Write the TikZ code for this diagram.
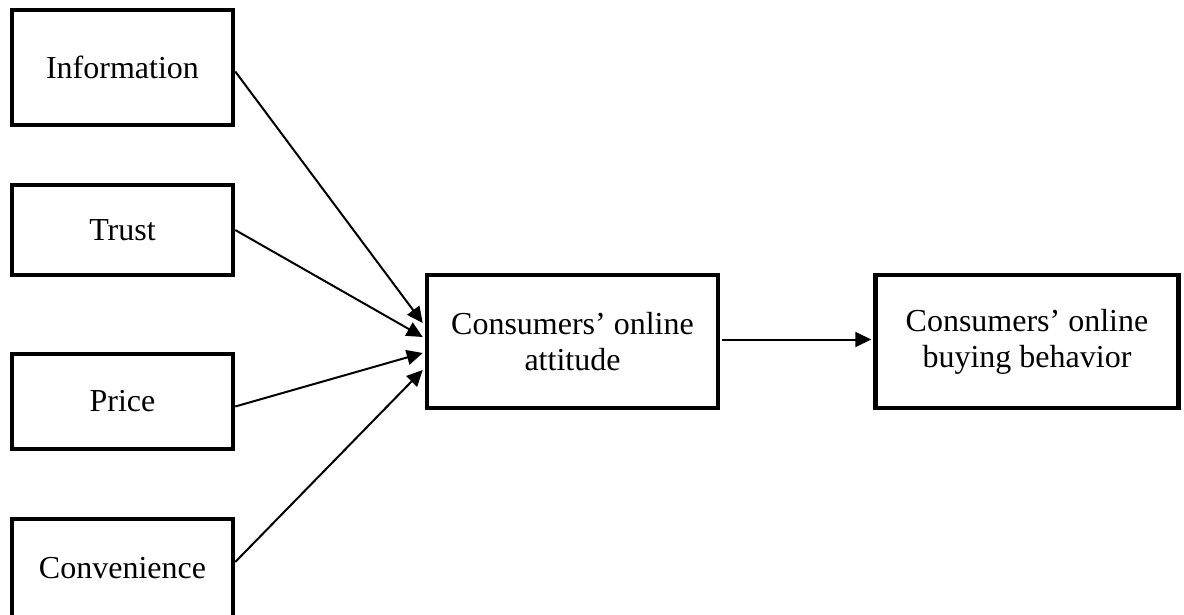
\documentclass[tikz,border=0pt]{standalone}
\usepackage{fontspec}
\setmainfont{Liberation Serif}
\usetikzlibrary{arrows.meta,calc}
\begin{document}
\begin{tikzpicture}[x=1pt,y=-1pt,
  box/.style={draw=black,line width=4.5pt,rectangle,inner sep=0pt,align=center,
    font=\fontsize{32}{36}\selectfont},
  link/.style={line width=2pt,-{Triangle[length=16pt,width=15pt]}}]
\useasboundingbox (0,0) rectangle (1184,615);
\begin{scope}
\clip (0,0) rectangle (1184,615);
\node[box,minimum width=221pt,minimum height=115pt] (info) at (122.5,67.5) {Information};
\node[box,minimum width=221pt,minimum height=90pt] (trust) at (122.5,230) {Trust};
\node[box,minimum width=221pt,minimum height=95pt] (price) at (122.5,401.5) {Price};
\node[box,minimum width=221pt,minimum height=98pt] (conv) at (122.5,568) {Convenience};
\node[box,minimum width=291pt,minimum height=133pt] (att) at (572.5,341.5) {Consumers’ online\\attitude};
\node[box,minimum width=303pt,minimum height=133pt] (beh) at (1027,341.5) {Consumers’ online\\buying behavior};
\end{scope}
\draw[link] ($(info.east)+(0,4)$) -- ($(att.west)+(-2,-18.5)$);
\draw[link] (trust.east) -- ($(att.west)+(-2,-4.5)$);
\draw[link] ($(price.east)+(0,5)$) -- ($(att.west)+(-2,11.5)$);
\draw[link] ($(conv.east)+(0,-6)$) -- ($(att.west)+(-2,28.5)$);
\draw[link] ($(att.east)+(2,-2)$) -- ($(beh.west)+(-2,-2)$);
\end{tikzpicture}
\end{document}
